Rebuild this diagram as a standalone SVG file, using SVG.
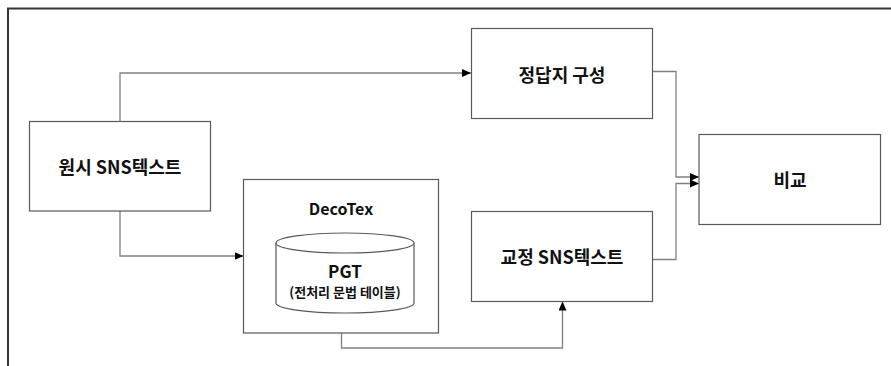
<svg xmlns="http://www.w3.org/2000/svg" width="891" height="366" viewBox="0 0 891 366">
<style>
.box{fill:#fff;stroke:#595959;stroke-width:1.2}
.lbl{font-family:"Noto Sans CJK KR","Noto Sans",sans-serif;font-weight:bold;fill:#111;text-anchor:middle;dominant-baseline:central}
.con{fill:none;stroke:#808080;stroke-width:1.3}
</style>
<defs>
<marker id="ah" markerWidth="9" markerHeight="8" refX="9" refY="4" orient="auto" markerUnits="userSpaceOnUse">
<path d="M0,0 L9,4 L0,8 Z" fill="#000"/>
</marker>
</defs>
<rect width="891" height="366" fill="#fff"/>
<rect x="8" y="8.5" width="900" height="400" fill="none" stroke="#333" stroke-width="2"/>
<g id="connectors">
<path class="con" d="M120,121.5 V73 H471" marker-end="url(#ah)"/>
<path class="con" d="M120,211 V256 H243.5" marker-end="url(#ah)"/>
<path class="con" d="M341.5,333 V348 H562.5 V301.5" marker-end="url(#ah)"/>
<path class="con" d="M652,71.5 H676 V177 H699" marker-end="url(#ah)"/>
<path class="con" d="M652,259.5 H676 V183.5 H699" marker-end="url(#ah)"/>
</g>
<g id="n-orig">
<rect class="box" x="29.5" y="121.5" width="181" height="89.5"/>
<text class="lbl" x="120" y="166" font-size="18">원시 SNS텍스트</text>
</g>
<g id="n-answer">
<rect class="box" x="471.5" y="28.5" width="181" height="90"/>
<text class="lbl" x="562" y="74" font-size="18">정답지 구성</text>
</g>
<g id="n-compare">
<rect class="box" x="699" y="134.5" width="181.5" height="90"/>
<text class="lbl" x="790" y="179" font-size="18">비교</text>
</g>
<g id="n-corrected">
<rect class="box" x="471.5" y="211.5" width="181" height="90"/>
<text class="lbl" x="562" y="256" font-size="18">교정 SNS텍스트</text>
</g>
<g id="n-decotex">
<rect class="box" x="243.5" y="179.5" width="195" height="153.5"/>
<text class="lbl" x="341" y="208" font-size="16">DecoTex</text>
</g>
<g id="n-pgt">
<path class="box" d="M276,243 V303 A69,10 0 0 0 414,303 V243"/>
<ellipse class="box" cx="345" cy="243" rx="69" ry="10"/>
<text class="lbl" x="345" y="270" font-size="17">PGT</text>
<text class="lbl" x="345" y="291" font-size="13">(전처리 문법 테이블)</text>
</g>
</svg>
